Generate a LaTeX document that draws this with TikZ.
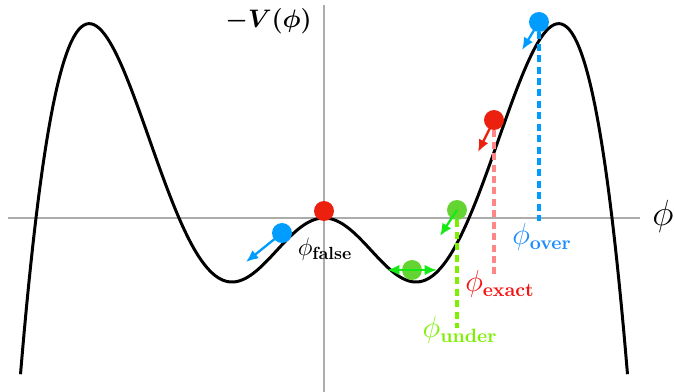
\documentclass[tikz,border=0pt]{standalone}
\usepackage{amsmath}
\usepackage{tikz}
\usetikzlibrary{arrows.meta}

\definecolor{kblue}{RGB}{0,157,255}
\definecolor{kbluetxt}{RGB}{30,140,255}
\definecolor{kred}{RGB}{235,32,15}
\definecolor{kredtxt}{RGB}{245,20,20}
\definecolor{kreddash}{RGB}{255,135,135}
\definecolor{kgreen}{RGB}{100,212,50}
\definecolor{kgreenarr}{RGB}{20,235,20}
\definecolor{kgreentxt}{RGB}{125,240,0}

\begin{document}
\begin{tikzpicture}[x=0.02cm,y=-0.02cm,
  ball/.style={circle,fill=#1,inner sep=0pt,minimum size=0.4cm},
  kick/.style={#1,line width=1.3pt,-{Latex[length=7pt,width=6pt]}},
  drop/.style={#1,line width=2pt,dash pattern=on 4pt off 2.5pt},
  lbl/.style={#1,font=\fontsize{16}{19}\selectfont,inner sep=1pt},
  declare function={hpot(\s)=\s*(\s-1)*(3.945-\s)/(1+0.673*\s);}]
\useasboundingbox (0,0) rectangle (674,392);
% axes
\draw[gray!65,line width=0.9pt] (8,218) -- (640,218);
\draw[gray!65,line width=0.9pt] (324,5) -- (324,392);
\node[font=\huge] (phiax) at (663,216) {$\phi$};
\node[font=\Large,anchor=east] (vlab) at (318,21) {$\boldsymbol{-V(\phi)}$};
% potential
\draw[line width=1.7pt,line join=round]
  plot[domain=-303.5:303.5,samples=241,smooth]
  ({324+\x},{218-95.5*hpot((\x/145)^2)});
% balls
\node[ball=kred] (bfalse) at (324,211) {};
\node[ball=kblue] (bleft) at (282,233) {};
\node[ball=kgreen] (bmin) at (412,270) {};
\node[ball=kgreen] (bunder) at (457,210) {};
\node[ball=kred] (bexact) at (494,120) {};
\node[ball=kblue] (bover) at (539,22) {};
% labels
\node[lbl=black,font=\Large] (lfalse) at (325,249) {$\phi_{\mathbf{false}}$};
\node[lbl=kbluetxt] (lover) at (542,237) {$\phi_{\mathbf{over}}$};
\node[lbl=kredtxt] (lexact) at (500,284) {$\phi_{\mathbf{exact}}$};
\node[lbl=kgreentxt] (lunder) at (460,330) {$\phi_{\mathbf{under}}$};
% release points
\draw[drop=kblue] (bover.south) -- (bover.south |- lover.north);
\draw[drop=kreddash] (bexact.south) -- ([yshift=-4pt]bexact.south |- lexact.north);
\draw[drop=kgreentxt] (bunder.south) -- ([yshift=-8pt]bunder.south |- lunder.north);
% kicks
\coordinate (eleft) at (246,262);
\coordinate (eunder) at (440,236);
\coordinate (eexact) at (478,152);
\coordinate (eover) at (522,50);
\coordinate (wl) at (387,270);
\coordinate (wr) at (437,270);
\draw[kick=kblue] (bleft.center) -- (eleft);
\draw[kick=kgreenarr] (bunder.center) -- (eunder);
\draw[kick=kred] (bexact.center) -- (eexact);
\draw[kick=kblue] (bover.center) -- (eover);
\draw[kick=kgreenarr,{Latex[length=7pt,width=6pt]}-{Latex[length=7pt,width=6pt]}] (wl) -- (wr);
\end{tikzpicture}
\end{document}
